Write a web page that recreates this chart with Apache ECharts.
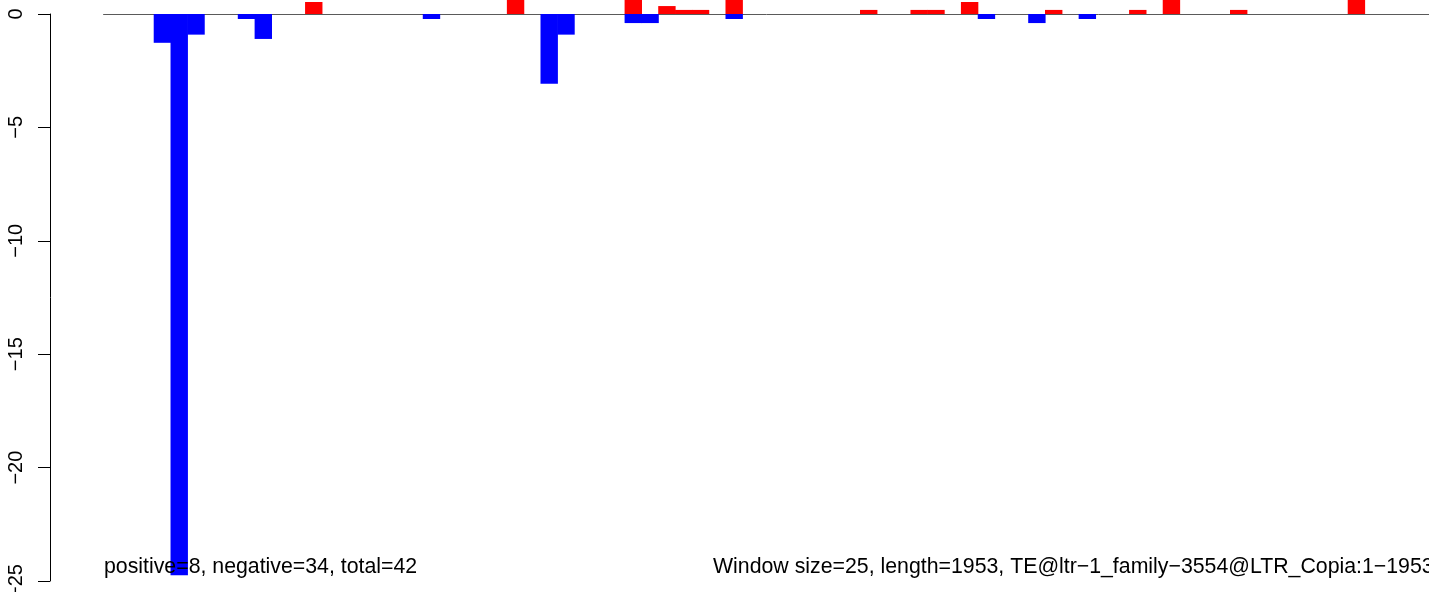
<!DOCTYPE html>
<html>
<head>
<meta charset="utf-8">
<script src="https://cdn.jsdelivr.net/npm/echarts@6/dist/echarts.min.js"></script>
<style>
html,body{margin:0;padding:0;background:#fff;}
#chart{width:1429px;height:592px;}
</style>
</head>
<body>
<div id="chart"></div>
<script>
// 79 windows of size 25 over length 1953
const windows = Array.from({length: 79}, (_, i) => String(i + 1));
// sparse values: [windowIndex(0-based), value]
const positivePoints = [
  [12, 0.53], [24, 1.0], [31, 1.0], [33, 0.35], [34, 0.18], [35, 0.18],
  [37, 1.0], [45, 0.18], [48, 0.18], [49, 0.18], [51, 0.53], [56, 0.18],
  [61, 0.18], [63, 1.0], [67, 0.18], [74, 1.0]
];
const negativePoints = [
  [3, -1.27], [4, -24.75], [5, -0.91], [8, -0.22], [9, -1.1], [19, -0.22],
  [26, -3.08], [27, -0.91], [31, -0.4], [32, -0.4], [37, -0.22], [52, -0.22],
  [55, -0.4], [58, -0.22]
];
const yTicks = [0, -5, -10, -15, -20, -25];
const leftNote = 'positive=8, negative=34, total=42';
const rightNote = 'Window size=25, length=1953, TE@ltr\u22121_family\u22123554@LTR_Copia:1\u22121953';

function expand(points) {
  const arr = windows.map(() => null);
  points.forEach(([i, v]) => { arr[i] = v; });
  return arr;
}
const positiveValues = expand(positivePoints);
const negativeValues = expand(negativePoints);

const FONT = '"Liberation Sans", Arial, Helvetica, sans-serif';
const chart = echarts.init(document.getElementById('chart'), null, {renderer: 'canvas'});
const yMax = 14 / 22.68;

chart.setOption({
  animation: false,
  backgroundColor: '#ffffff',
  grid: [
    {left: 103.55, width: 79 * 16.817, top: 0, bottom: 11, containLabel: false, outerBoundsMode: 'none'},
    {left: 50, width: 1, top: 14, bottom: 11, containLabel: false, outerBoundsMode: 'none'}
  ],
  xAxis: [
    {
      type: 'category', gridIndex: 0, data: windows, boundaryGap: true,
      axisLine: {show: true, onZero: true, lineStyle: {color: '#5a5a5a', width: 1}},
      axisTick: {show: false}, axisLabel: {show: false}, splitLine: {show: false}
    },
    {type: 'value', gridIndex: 1, show: false, min: 0, max: 1}
  ],
  yAxis: [
    {
      type: 'value', gridIndex: 0, min: -25, max: yMax, show: false,
      splitLine: {show: false}
    },
    {
      type: 'value', gridIndex: 1, min: -25, max: 0, interval: 5,
      axisLine: {show: true, lineStyle: {color: '#000', width: 1}},
      axisTick: {show: true, inside: false, length: 12, lineStyle: {color: '#000', width: 1}},
      splitLine: {show: false},
      axisLabel: {
        show: true, rotate: 90, margin: 24, color: '#000',
        fontFamily: FONT, fontSize: 20,
        formatter: v => (v < 0 ? '\u2212' + Math.abs(v) : String(v))
      }
    }
  ],
  series: [
    {
      name: 'positive', type: 'bar', xAxisIndex: 0, yAxisIndex: 0,
      data: positiveValues, barGap: '-100%', barWidth: 17.4,
      itemStyle: {color: '#ff0000'}, clip: true
    },
    {
      name: 'negative', type: 'bar', xAxisIndex: 0, yAxisIndex: 0,
      data: negativeValues, barGap: '-100%', barWidth: 17.4,
      itemStyle: {color: '#0000ff'}, clip: true
    }
  ],
  graphic: [
    {
      type: 'text', left: 104, top: 557, z: 100,
      style: {text: leftNote, font: '21.3px ' + FONT, fill: '#000'}
    },
    {
      type: 'text', left: 713, top: 557, z: 100,
      style: {text: rightNote, font: '21.3px ' + FONT, fill: '#000'}
    }
  ]
});
</script>
</body>
</html>
